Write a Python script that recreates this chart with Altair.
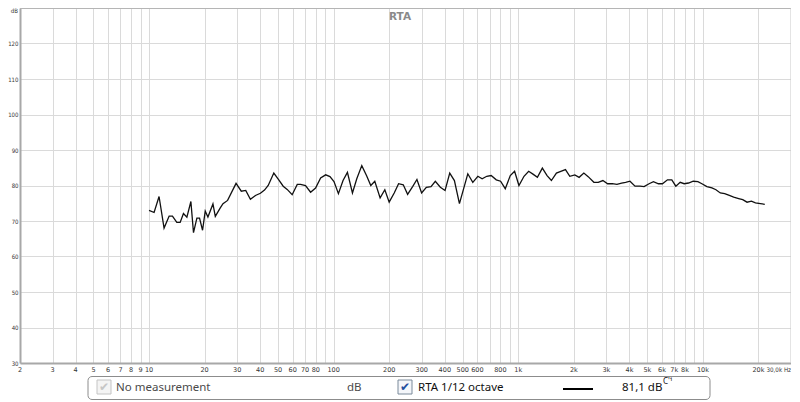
import altair as alt
import pandas as pd

# ---- data (RTA 1/12 octave) ----
freq_hz = [10.0, 10.65, 11.33, 12.06, 12.85, 13.39, 14.14, 14.74, 15.36, 16.03, 16.85, 17.41,
           18.16, 18.77, 19.49, 20.15, 20.84, 22.19, 22.85, 24.31, 25.15, 26.64, 29.6, 31.6,
           33.4, 35.4, 37.7, 40.1, 42.2, 44.2, 47.4, 50.2, 53.3, 56.0, 59.6, 63.5, 66.2,
           70.4, 75.0, 79.8, 85.0, 90.5, 95.5, 100.4, 106.1, 112.4, 118.7, 126.4, 133.4,
           142.0, 150.6, 158.9, 167.0, 178.5, 189.3, 199.8, 212.8, 224.7, 238.2, 251.5,
           267.7, 282.5, 299.5, 317.6, 336.7, 355.3, 378.3, 401.2, 425.3, 450.8, 480.0,
           532.7, 567, 604, 637, 675, 713, 760, 802, 850, 905, 955, 1008, 1074, 1138, 1201,
           1269, 1350, 1432, 1511, 1609, 1699, 1801, 1901, 2024, 2136, 2265, 2391, 2567,
           2710, 2873, 3046, 3229, 3422, 3628,
           3814, 4027, 4288, 4564, 4800, 5109, 5395, 5743, 6037, 6427, 6785, 7135, 7531,
           7918, 8358, 8861, 9394, 9876, 10510, 11190, 11770, 12420, 13120, 13900, 14680,
           15620, 16430, 17340, 18310, 19250, 20490, 21630]
level_db = [73.0, 72.4, 76.9, 68.0, 71.4, 71.4, 69.6, 69.6, 72.1, 71.1, 75.5, 66.7,
            70.8, 70.8, 67.4, 72.8, 71.1, 74.8, 71.3, 73.7, 74.9, 75.8, 80.6, 78.4,
            78.6, 76.1, 77.2, 77.8, 78.7, 80.0, 83.5, 81.7, 79.8, 78.9, 77.4, 80.3, 80.3,
            80.0, 78.1, 79.3, 82.1, 83.0, 82.5, 81.1, 77.7, 81.4, 83.7, 77.9, 81.9,
            85.6, 82.8, 80.0, 81.2, 76.5, 78.8, 75.3, 77.9, 80.5, 80.2, 77.5,
            79.7, 81.7, 77.9, 79.5, 79.7, 81.2, 79.5, 78.6, 83.5, 81.4, 74.9,
            83.3, 80.9, 82.6, 81.9, 82.6, 82.8, 81.6, 81.2, 79.1, 82.8, 84.0, 80.0, 82.6, 84.0, 83.2,
            82.3, 84.9, 82.8, 81.4, 83.5, 84.0, 84.5, 82.6, 83.0, 82.3, 83.5, 82.5, 80.9,
            80.9, 81.4, 80.5, 80.5, 80.3, 80.7,
            80.9, 81.2, 79.8, 79.8, 79.7, 80.5, 81.1, 80.5, 80.5, 81.6, 81.6, 79.8, 80.9,
            80.5, 80.7, 81.2, 81.1, 80.5, 79.7, 79.3, 78.8, 77.9, 77.7, 77.2, 76.7,
            76.3, 76.0, 75.3, 75.6, 75.1, 74.9, 74.7]

grid_hz = [2, 3, 4, 5, 6, 7, 8, 9, 10, 20, 30, 40, 50, 60, 70, 80, 90,
           100, 200, 300, 400, 500, 600, 700, 800, 900,
           1000, 2000, 3000, 4000, 5000, 6000, 7000, 8000, 9000, 10000, 20000, 30000]
label_hz = [2, 3, 4, 5, 6, 7, 8, 9, 10, 20, 30, 40, 50, 60, 70, 80, 100, 200, 300, 400,
            500, 600, 800, 1000, 2000, 3000, 4000, 5000, 6000, 7000, 8000, 10000, 20000]
label_text = ["2", "3", "4", "5", "6", "7", "8", "9", "10", "20", "30", "40", "50", "60",
              "70", "80", "100", "200", "300", "400", "500", "600", "800", "1k", "2k", "3k",
              "4k", "5k", "6k", "7k", "8k", "10k", "20k"]
end_label_hz = [30000]
end_label_text = ["30,0k Hz"]
db_ticks = [30, 40, 50, 60, 70, 80, 90, 100, 110, 120, 130]

W, H = 771, 355
FONT = "DejaVu Sans"
FONT_C = "DejaVu Sans Condensed"
UI = "Noto Sans"

xs = alt.Scale(type="log", domain=[2, 30000], nice=False)
ys = alt.Scale(domain=[30, 130], nice=False, zero=False)

x_axis = alt.Axis(values=grid_hz, grid=True, gridColor="#dadada", gridWidth=1,
                  labels=False, ticks=False, domain=True, domainColor="#a8a8a8",
                  domainWidth=2, title=None)
y_axis = alt.Axis(values=db_ticks, grid=True, gridColor="#dadada", gridWidth=1,
                  ticks=False, domain=True, domainColor="#a8a8a8", domainWidth=2,
                  labelFontSize=6, labelColor="#333333", labelFont=FONT_C, labelPadding=2,
                  labelExpr="datum.value == 130 ? '' : datum.label", title=None)

df = pd.DataFrame({"f": freq_hz, "db": level_db})
lab = pd.DataFrame({"f": label_hz, "t": label_text})
endlab = pd.DataFrame({"f": end_label_hz, "t": end_label_text})
one = alt.Data(values=[{"a": 1}])

X = alt.X("f:Q", scale=xs, axis=x_axis)

line = alt.Chart(df).mark_line(color="#111111", strokeWidth=1.3, strokeJoin="miter").encode(
    x=X, y=alt.Y("db:Q", scale=ys, axis=y_axis))

xlabels = alt.Chart(lab).mark_text(fontSize=6.5, font=FONT, color="#333333",
                                    baseline="middle", align="center").encode(
    x=X, y=alt.value(362), text="t:N")
xend = alt.Chart(endlab).mark_text(fontSize=6.2, font=FONT_C, color="#333333",
                                   baseline="middle", align="right").encode(
    x=X, y=alt.value(362), text="t:N")

db_unit = alt.Chart(one).mark_text(text="dB", fontSize=6, font=FONT_C, color="#333333",
                                   baseline="top", align="right").encode(
    x=alt.value(-2), y=alt.value(0))

top_border = alt.Chart(one).mark_rule(color="#b5b5b5", strokeWidth=2).encode(
    x=alt.value(0), x2=alt.value(W), y=alt.value(0))
right_border = alt.Chart(one).mark_rule(color="#c8c8c8", strokeWidth=1).encode(
    x=alt.value(W), y=alt.value(0), y2=alt.value(H))

title = alt.Chart(one).mark_text(text="RTA", fontSize=10.5, font=FONT, fontWeight="bold",
                                 color="#8a8a8a", baseline="middle").encode(
    x=alt.value(380), y=alt.value(9))

# ---- bottom legend box ----
box = alt.Chart(one).mark_rect(fill="white", stroke="#8c8c8c", strokeWidth=1,
                               cornerRadius=4).encode(
    x=alt.value(68), x2=alt.value(690), y=alt.value(368.5), y2=alt.value(391.5))
cb1 = alt.Chart(one).mark_rect(fill="#f4f4f4", stroke="#c4c4c4", strokeWidth=1).encode(
    x=alt.value(77), x2=alt.value(91), y=alt.value(372), y2=alt.value(386))
ck1 = alt.Chart(one).mark_text(text="✔", fontSize=12, font=FONT, color="#c6c6c6",
                               baseline="middle").encode(x=alt.value(84), y=alt.value(379))
t1 = alt.Chart(one).mark_text(text="No measurement", fontSize=11.5, font=UI, color="#4a4a4a",
                              baseline="middle", align="left").encode(
    x=alt.value(96), y=alt.value(380))
t2 = alt.Chart(one).mark_text(text="dB", fontSize=11.5, font=UI, color="#4a4a4a",
                              baseline="middle", align="left").encode(
    x=alt.value(327), y=alt.value(380))
cb2 = alt.Chart(one).mark_rect(fill="#f4f6fa", stroke="#7a8a9a", strokeWidth=1).encode(
    x=alt.value(378), x2=alt.value(392), y=alt.value(372), y2=alt.value(386))
ck2 = alt.Chart(one).mark_text(text="✔", fontSize=12, font=FONT, color="#1f4fa0",
                               baseline="middle").encode(x=alt.value(385), y=alt.value(379))
t3 = alt.Chart(one).mark_text(text="RTA 1/12 octave", fontSize=11.5, font=UI, color="#111111",
                              baseline="middle", align="left").encode(
    x=alt.value(398), y=alt.value(380))
sample = alt.Chart(one).mark_rule(color="#000000", strokeWidth=2).encode(
    x=alt.value(543), x2=alt.value(573), y=alt.value(381))
t4 = alt.Chart(one).mark_text(text="81,1 dB", fontSize=11.5, font=UI, color="#111111",
                              baseline="middle", align="left").encode(
    x=alt.value(602), y=alt.value(380))
t5 = alt.Chart(one).mark_text(text="C'¹", fontSize=8, font=UI, color="#111111",
                              baseline="middle", align="left").encode(
    x=alt.value(643), y=alt.value(374))

chart = alt.layer(
    line, xlabels, xend, db_unit, top_border, right_border, title,
    box, cb1, ck1, t1, t2, cb2, ck2, t3, sample, t4, t5
).properties(
    width=W, height=H, autosize="none",
    padding={"left": 12, "top": 0, "right": 0, "bottom": 37},
    background="white"
).configure_view(stroke=None)

chart.save("out.html", embed_options={"renderer": "svg", "actions": False})
